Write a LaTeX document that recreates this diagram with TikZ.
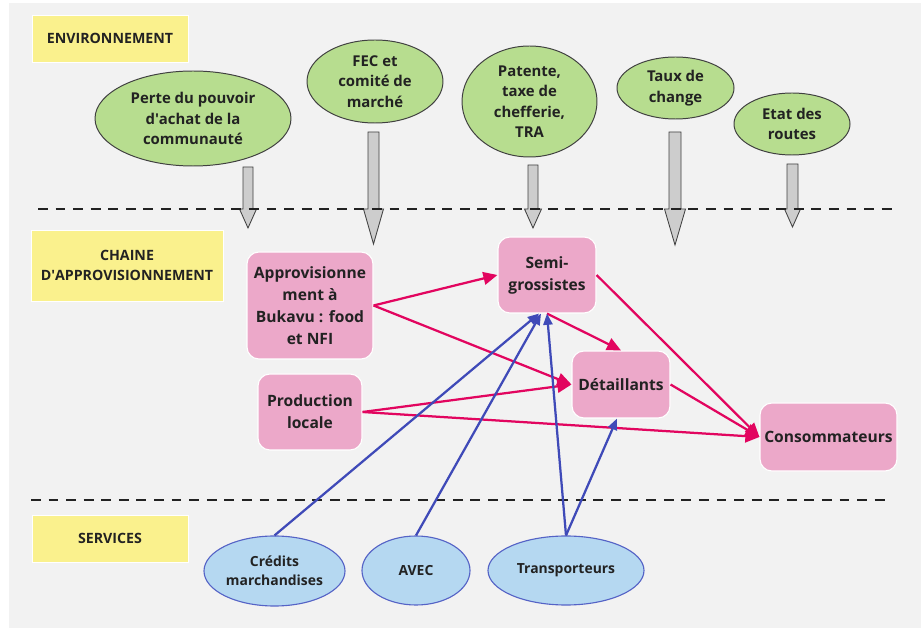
\documentclass[tikz,border=0pt]{standalone}
\usepackage{fontspec}
\setmainfont{Open Sans}
\usetikzlibrary{positioning}
\usetikzlibrary{arrows.meta}
\usetikzlibrary{shapes.geometric}

\definecolor{fondGris}{HTML}{F2F2F2}
\definecolor{zoneJaune}{HTML}{FAF18D}
\definecolor{envVert}{HTML}{B7DD8F}
\definecolor{chainRose}{HTML}{ECA8C9}
\definecolor{servBleu}{HTML}{B5D8F1}
\definecolor{servBord}{HTML}{5563C6}
\definecolor{fluxRose}{HTML}{E2055F}
\definecolor{appuiBleu}{HTML}{3F4AB8}
\definecolor{flecheGris}{HTML}{CDCDCD}
\definecolor{encre}{HTML}{222222}

% one unit = one pixel of the original drawing
\def\px{0.025cm}

\begin{document}
\begin{tikzpicture}[x=0.025cm, y=-0.025cm,
    every node/.style={text=encre, align=center, inner sep=0pt,
      font=\bfseries\fontsize{10.6}{14.5}\selectfont},
    zone/.style={rectangle, fill=zoneJaune, draw=white, line width=0.6pt,
      font=\bfseries\fontsize{10.1}{14.2}\selectfont},
    facteur/.style={ellipse, fill=envVert, draw=black!75, line width=0.7pt},
    maillon/.style={rectangle, rounded corners=8.5pt, fill=chainRose, draw=white, line width=0.8pt,
      font=\bfseries\fontsize{11.1}{15.6}\selectfont},
    service/.style={ellipse, fill=servBleu, draw=servBord, line width=0.8pt,
      font=\bfseries\fontsize{9.9}{13.5}\selectfont},
    flux/.style={draw=fluxRose, line width=1.6pt, -{Triangle[length=10pt,width=9pt]}},
    appui/.style={draw=appuiBleu, line width=1.6pt, -{Triangle[length=8pt,width=6.5pt]}}]

  \useasboundingbox (0,0) rectangle (922,629);
  \fill[fondGris] (9,3) rectangle (921,628);

  % Zone labels on the left
  \node[zone, minimum width=156*\px, minimum height=47*\px] (envZone) at (110,38.5) {ENVIRONNEMENT};
  \node[zone, minimum width=192*\px, minimum height=71*\px] (chaineZone) at (127,265.5) {CHAINE\\D\textquotesingle APPROVISIONNEMENT};
  \node[zone, minimum width=156*\px, minimum height=47*\px] (servZone) at (110,538.5) {SERVICES};

  % Environment factors
  \node[facteur, minimum width=196*\px, minimum height=95*\px] (perte) at (193,118.5) {Perte du pouvoir\\d\textquotesingle achat de la\\communauté};
  \node[facteur, minimum width=136*\px, minimum height=83*\px] (fec) at (375,81.5) {FEC et\\comité de\\marché};
  \node[facteur, minimum width=135*\px, minimum height=111*\px] (patente) at (529.5,101.5) {Patente,\\taxe de\\chefferie,\\TRA};
  \node[facteur, minimum width=117*\px, minimum height=62*\px] (taux) at (675.5,88) {Taux de\\change};
  \node[facteur, minimum width=116*\px, minimum height=62*\px] (routes) at (792,124) {Etat des\\routes};

  % Grey block arrows: centre x / top / shaft half width / head half width / tip
  \foreach \cx/\ytop/\sw/\hw/\ytip in {248/167/5/8.5/228, 373.5/132/5.5/10/244,
      533/165/5/8.5/228, 675/132/6/10.5/245, 792.5/164/5.5/8/227} {
    \filldraw[fill=flecheGris, draw=black!75, line width=0.6pt, line join=miter]
      (\cx-\sw,\ytop) -- (\cx+\sw,\ytop) -- (\cx+\sw,209) -- (\cx+\hw,209)
      -- (\cx,\ytip) -- (\cx-\hw,209) -- (\cx-\sw,209) -- cycle;
  }

  % Dashed separators
  \draw[encre, line width=1.5pt, dash pattern=on 7pt off 5.5pt] (38,209) -- (896,209);
  \draw[encre, line width=1.5pt, dash pattern=on 7pt off 5.5pt] (31,500) -- (889,500);

  % Supply chain
  \node[maillon, minimum width=126*\px, minimum height=107*\px] (appro) at (310,305.5) {Approvisionne\\ment à\\Bukavu : food\\et NFI};
  \node[maillon, minimum width=104*\px, minimum height=76*\px] (prod) at (310,412) {Production\\locale};
  \node[maillon, minimum width=98*\px, minimum height=76*\px] (semi) at (547,275) {Semi-\\grossistes};
  \node[maillon, minimum width=98*\px, minimum height=67*\px] (detail) at (621,384.5) {Détaillants};
  \node[maillon, minimum width=137*\px, minimum height=68*\px] (conso) at (828.5,437) {Consommateurs};

  % Services
  \node[service, minimum width=141*\px, minimum height=70*\px] (credits) at (274.5,571) {Crédits\\marchandises};
  \node[service, minimum width=108*\px, minimum height=69*\px] (avec) at (416,570.5) {AVEC};
  \node[service, minimum width=156*\px, minimum height=69*\px] (transp) at (566,570.5) {Transporteurs};

  % Flows of goods
  \draw[flux] (appro.east) -- (semi.west);
  \draw[flux] (appro.east) -- (detail.west);
  \draw[flux] (prod.east) -- (detail.west);
  \draw[flux] (prod.east) -- (conso.west);
  \draw[flux] (semi.south) -- (detail.north);
  \draw[flux] (semi.east) -- (conso.west);
  \draw[flux] (detail.east) -- (conso.west);

  % Support from services
  \draw[appui] (credits.north) -- ([xshift=-0.2cm]semi.south);
  \draw[appui] (avec.north) -- ([xshift=-0.15cm]semi.south);
  \draw[appui] (transp.north) -- (semi.south);
  \draw[appui] (transp.north) -- ([xshift=-0.1cm]detail.south);
\end{tikzpicture}
\end{document}
